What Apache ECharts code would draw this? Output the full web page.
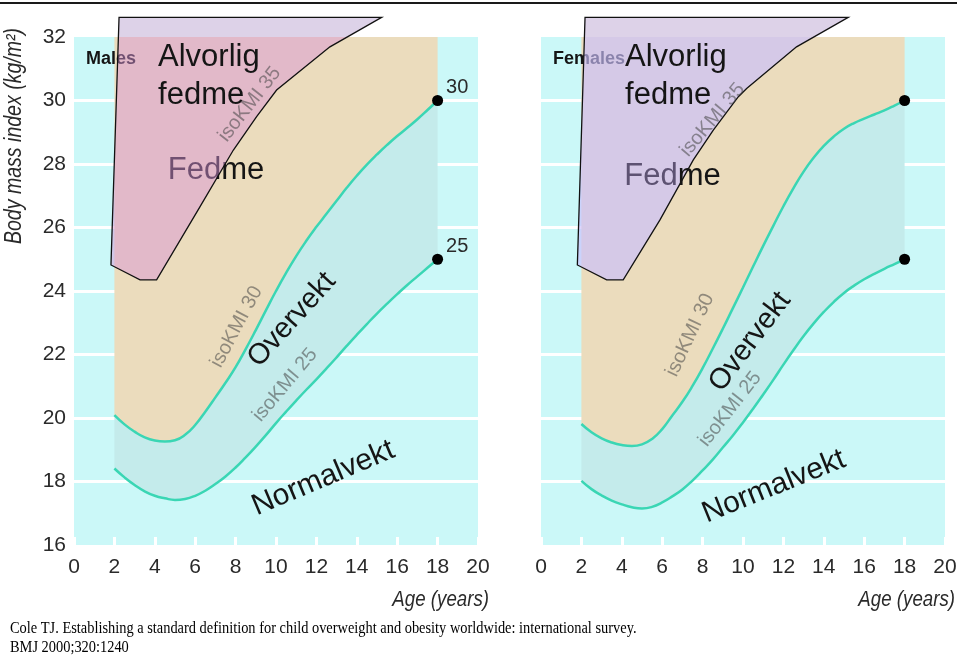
<!DOCTYPE html>
<html><head><meta charset="utf-8">
<script src="https://cdn.jsdelivr.net/npm/echarts@6/dist/echarts.min.js"></script>
<style>html,body{margin:0;padding:0;background:#fff}#c{width:960px;height:662px}</style>
</head><body><div id="c"></div>
<script>
// ---------- data ----------
const ages      = [2,2.5,3,3.5,4,4.5,5,5.5,6,6.5,7,7.5,8,8.5,9,9.5,10,10.5,11,11.5,12,12.5,13,13.5,14,14.5,15,15.5,16,16.5,17,17.5,18];
const male25    = [18.41,18.13,17.89,17.69,17.55,17.47,17.42,17.45,17.55,17.71,17.92,18.16,18.44,18.76,19.10,19.46,19.84,20.20,20.55,20.89,21.22,21.56,21.91,22.27,22.62,22.96,23.29,23.60,23.90,24.19,24.46,24.73,25.00];
const male30    = [20.09,19.80,19.57,19.39,19.29,19.26,19.30,19.47,19.78,20.20,20.65,21.11,21.60,22.17,22.77,23.39,24.00,24.57,25.10,25.58,26.02,26.43,26.84,27.25,27.63,27.98,28.30,28.60,28.88,29.14,29.41,29.70,30.00];
const female25  = [18.02,17.76,17.56,17.40,17.28,17.19,17.15,17.20,17.34,17.53,17.75,18.03,18.35,18.69,19.07,19.45,19.86,20.29,20.74,21.20,21.68,22.14,22.58,22.98,23.34,23.66,23.94,24.17,24.37,24.54,24.70,24.85,25.00];
const female30  = [19.81,19.55,19.36,19.23,19.15,19.12,19.17,19.34,19.65,20.08,20.51,21.01,21.57,22.18,22.81,23.46,24.11,24.77,25.42,26.05,26.67,27.24,27.76,28.20,28.57,28.87,29.11,29.29,29.43,29.56,29.69,29.84,30.00];
// "Alvorlig fedme" (isoKMI 35) overlay outlines, [age, BMI]
const maleSevere   = [[2.23,32.62],[15.23,32.62],[12.67,31.69],[10.03,30.33],[9.04,29.49],[7.89,28.44],[6.24,26.66],[4.09,24.35],[3.27,24.35],[1.83,24.82]];
const femaleSevere = [[2.18,32.62],[15.21,32.62],[12.65,31.69],[10.18,30.38],[9.77,30.12],[8.53,29.07],[7.54,28.13],[5.89,26.24],[4.07,24.35],[3.25,24.35],[1.80,24.82]];
const panelTitles = ['Males','Females'];
const endLabels   = ['30','25'];
const xMin = 0, xMax = 20, xStep = 2;
const yMin = 16, yMax = 32, yStep = 2;

// ---------- styles ----------
const SANS = "'Liberation Sans',Arial,sans-serif";
const C = {
  bg:'#cbf8f8', teal:'#c4ebeb', beige:'#ebdcbd', line:'#3ad6b4',
  aboveFill:'#ddd2e8',
  inside:['rgba(216,147,215,0.48)','rgba(201,191,253,0.65)'],
  grey:'rgba(70,70,70,0.55)', text:'#151515', axis:'#2a2a2a', faded:'#5d5272'
};
const grids = [
  {left:74, top:37, width:404, height:508},
  {left:541, top:37, width:404, height:508}
];
// annotation layout, in data units of each panel
const notes = [
  [
    {t:'isoKMI 35', at:[8.70,29.88], rot:52, size:20, color:C.grey, z:10},
    {t:'isoKMI 30', at:[8.05,22.87], rot:62, size:20, color:C.grey, z:10},
    {t:'Overvekt',  at:[10.78,23.09], rot:48, size:29, color:C.text, z:10},
    {t:'isoKMI 25', at:[10.45,21.04], rot:50, size:20, color:C.grey, z:10},
    {t:'Normalvekt',at:[12.34,18.10], rot:23, size:30, color:C.text, z:10},
    {t:'Fedme',     at:[7.03,27.81], rot:0, size:31, color:C.text, z:3},
    {t:'Alvorlig\nfedme', at:[4.16,30.77], rot:0, size:31, color:C.text, z:10, align:'left', lh:38},
    {t:panelTitles[0], at:[0.59,31.31], rot:0, size:18, color:C.text, z:3, align:'left', bold:true}
  ],
  [
    {t:'isoKMI 35', at:[8.49,29.39], rot:50, size:20, color:C.grey, z:10},
    {t:'isoKMI 30', at:[7.38,22.61], rot:65, size:20, color:C.grey, z:10},
    {t:'Overvekt',  at:[10.35,22.40], rot:53, size:29, color:C.text, z:10},
    {t:'isoKMI 25', at:[9.36,20.28], rot:52, size:20, color:C.grey, z:10},
    {t:'Normalvekt',at:[11.53,17.84], rot:22, size:30, color:C.text, z:10},
    {t:'{a|Fed}{b|me}', at:[6.51,27.62], rot:0, size:31, color:C.text, z:10,
      rich:{a:{fill:C.faded, fontSize:31, fontFamily:SANS}, b:{fill:C.text, fontSize:31, fontFamily:SANS}}},
    {t:'Alvorlig\nfedme', at:[4.16,30.77], rot:0, size:31, color:C.text, z:10, align:'left', lh:38},
    {t:panelTitles[1], at:[0.59,31.31], rot:0, size:18, color:C.text, z:3, align:'left', bold:true}
  ]
];

// ---------- helpers ----------
function clipY(pts, c, keepAbove){
  const inside = p => keepAbove ? p[1] >= c : p[1] <= c;
  const inter = (a,b) => { const t=(c-a[1])/(b[1]-a[1]); return [a[0]+t*(b[0]-a[0]), c]; };
  const out = [];
  for (let i=0;i<pts.length;i++){
    const cur = pts[i], prev = pts[(i+pts.length-1)%pts.length];
    const ci = inside(cur), pi = inside(prev);
    if (ci){ if(!pi) out.push(inter(prev,cur)); out.push(cur); }
    else if (pi) out.push(inter(prev,cur));
  }
  return out;
}

// bands built by stacking on the BMI dimension (put first so it is the stacked one)
function bandSeries(p, c25, c30){
  const base = {type:'line', xAxisIndex:p, yAxisIndex:p, stack:'s'+p, smooth:0.5, symbol:'none', silent:true,
    encode:{x:1, y:0}};
  return [
    Object.assign({}, base, {z:4, data: ages.map((a,i)=>[c25[i],a]), lineStyle:{color:C.line,width:2.5}}),
    Object.assign({}, base, {z:3, data: ages.map((a,i)=>[c30[i]-c25[i],a]), lineStyle:{color:C.line,width:2.5}, areaStyle:{color:C.teal,opacity:1}}),
    Object.assign({}, base, {z:2, data: ages.map((a,i)=>[yMax-c30[i],a]), lineStyle:{width:0,opacity:0}, areaStyle:{color:C.beige,opacity:1}})
  ];
}

function severeSeries(p, poly){
  return {
    type:'custom', xAxisIndex:p, yAxisIndex:p, z:5, clip:false, silent:true,
    data: poly,
    renderItem(params, api){
      if (params.dataIndex !== 0) return null;
      const px = pts => pts.map(pt => api.coord(pt));
      return {type:'group', children:[
        {type:'polygon', shape:{points:px(clipY(poly,yMax,true))}, style:{fill:C.aboveFill}},
        {type:'polygon', shape:{points:px(clipY(poly,yMax,false))}, style:{fill:C.inside[p]}},
        {type:'polygon', shape:{points:px(poly)}, style:{fill:null, stroke:'#111', lineWidth:1.3}}
      ]};
    }
  };
}

function endDots(p, c25, c30){
  const n = ages.length-1;
  return {
    type:'scatter', xAxisIndex:p, yAxisIndex:p, z:6, silent:true,
    symbolSize:11, itemStyle:{color:'#000000', opacity:1},
    data:[[ages[n],c30[n]],[ages[n],c25[n]]],
    label:{show:p===0, position:'right', distance:3, offset:[0,-13],
      formatter: d => endLabels[d.dataIndex], fontFamily:SANS, fontSize:20, color:C.axis}
  };
}

const xAxes = grids.map((g,i)=>({
  type:'value', gridIndex:i, min:xMin, max:xMax, interval:xStep,
  axisLine:{show:false},
  axisTick:{show:true, inside:true, length:8, lineStyle:{color:'#ffffff', width:3}},
  splitLine:{show:false},
  axisLabel:{fontFamily:SANS, fontSize:21, color:C.axis, margin:12}
}));
const yAxes = grids.map((g,i)=>({
  type:'value', gridIndex:i, min:yMin, max:yMax, interval:yStep,
  axisLine:{show:false}, axisTick:{show:false},
  splitLine:{show:true, showMinLine:false, showMaxLine:false, lineStyle:{color:'#ffffff', width:3}},
  axisLabel:{show:i===0, fontFamily:SANS, fontSize:21, color:C.axis, margin:8}
}));

const chart = echarts.init(document.getElementById('c'), null, {renderer:'canvas'});
chart.setOption({
  animation:false,
  backgroundColor:'#ffffff',
  grid: grids.map(g=>Object.assign({show:true, backgroundColor:C.bg, borderWidth:0}, g)),
  xAxis:xAxes, yAxis:yAxes,
  series:[
    ...bandSeries(0, male25, male30), ...bandSeries(1, female25, female30),
    severeSeries(0, maleSevere), severeSeries(1, femaleSevere),
    endDots(0, male25, male30), endDots(1, female25, female30)
  ]
});

// ---------- text annotations positioned through the axes ----------
const graphics = [];
notes.forEach((list,p)=>{
  list.forEach(n=>{
    const [x,y] = chart.convertToPixel({gridIndex:p}, n.at);
    const style = {text:n.t, fontFamily:SANS, fontWeight:n.bold?'bold':'normal',
        fontSize:n.size, fill:n.color, align:n.align||'center', verticalAlign:'middle',
        lineHeight:n.lh||n.size};
    if (n.rich) style.rich = n.rich;
    graphics.push({type:'text', x, y, rotation:n.rot*Math.PI/180, z:n.z, silent:true, style});
  });
});
// axis names (condensed look via scaleX)
graphics.push({type:'text', x:15, y:136, rotation:Math.PI/2, scaleX:0.85, z:10, style:{text:'Body mass index (kg/m²)', fontFamily:SANS, fontStyle:'italic', fontSize:23, fill:C.axis, align:'center', verticalAlign:'middle'}});
graphics.push({type:'text', x:489, y:600, scaleX:0.85, z:10, style:{text:'Age (years)', fontFamily:SANS, fontStyle:'italic', fontSize:22, fill:C.axis, align:'right', verticalAlign:'middle'}});
graphics.push({type:'text', x:955, y:600, scaleX:0.85, z:10, style:{text:'Age (years)', fontFamily:SANS, fontStyle:'italic', fontSize:22, fill:C.axis, align:'right', verticalAlign:'middle'}});
// top rule
graphics.push({type:'line', z:10, shape:{x1:0,y1:3,x2:957,y2:3}, style:{stroke:'#1a1a1a', lineWidth:2}});
// source caption
const SERIF = "'Liberation Serif','Times New Roman',serif";
graphics.push({type:'text', x:10, y:629, scaleX:0.9, z:10, style:{text:'Cole TJ. Establishing a standard definition for child overweight and obesity worldwide: international survey.', fontFamily:SERIF, fontSize:16, fill:'#000', align:'left', verticalAlign:'middle'}});
graphics.push({type:'text', x:10, y:648, scaleX:0.9, z:10, style:{text:'BMJ 2000;320:1240', fontFamily:SERIF, fontSize:16, fill:'#000', align:'left', verticalAlign:'middle'}});
chart.setOption({graphic:graphics});
</script></body></html>
